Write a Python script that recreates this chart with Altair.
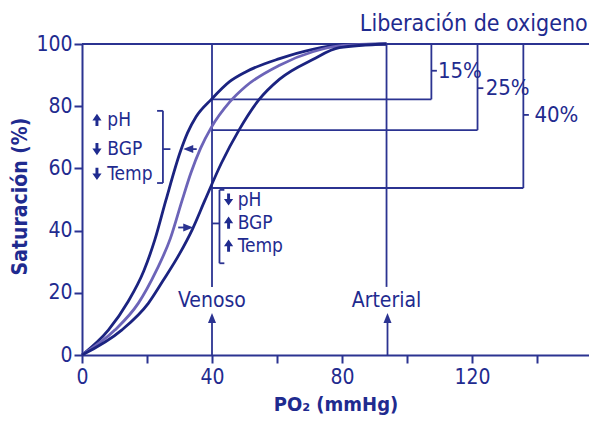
import altair as alt
import pandas as pd

FONT = "Noto Sans Condensed, DejaVu Sans Condensed, Liberation Sans, sans-serif"
DARK = "#1b2380"
MID = "#6c64b8"
LINE = "#2b3391"
TEXT = "#1f2b8f"

X_MAX = 156.0
XT = "PO₂ (mmHg)"
YT = "Saturación (%)"

# ---- curves (PO2 mmHg, saturation %) ----
left_po2 = [0, 8.1, 14.2, 19.0, 22.4, 25.8, 30.3, 32.5, 35.1, 39.8, 45.4, 50.5, 60.8, 71.0, 79.2, 93.7]
left_sat = [0, 8.0, 17.2, 27.0, 37.0, 49.7, 65.5, 71.5, 76.6, 82.2, 87.9, 91.1, 95.3, 98.3, 99.6, 100]
mid_po2 = [0, 10.1, 17.3, 22.9, 27.2, 30.8, 33.5, 36.5, 39.8, 45.4, 50.5, 60.8, 71.0, 79.2, 93.7]
mid_sat = [0, 8.0, 16.6, 27.2, 37.5, 49.7, 58.5, 66.5, 73.2, 81.3, 86.5, 93.2, 97.5, 99.4, 100]
right_po2 = [0, 12.2, 20.4, 25.0, 30.0, 34.0, 37.8, 42.8, 48.3, 54.4, 60.8, 71.0, 79.2, 93.7]
right_sat = [0, 8.0, 16.6, 24.0, 32.5, 40.5, 49.7, 61.5, 72.3, 82.0, 88.7, 95.0, 98.8, 100]

# ---- annotation segments (x, y, x2, y2) ----
seg_x = [0, 40, 93.7, 40, 107.5, 107.5, 40, 121.7, 121.7, 40, 135.8, 135.8,
         24.9, 23.1, 23.1, 24.9, 42.3, 42.3, 42.3, 40, 40, 94, 35.3, 29.6]
seg_y = [100, 100, 100, 82.2, 100, 91.4, 72.3, 100, 85.8, 53.7, 100, 77.2,
         78.5, 78.5, 55.3, 66.2, 53.1, 53.1, 29.5, 42.3, 0, 0, 66.2, 41.0]
seg_x2 = [X_MAX, 40, 93.7, 107.5, 107.5, 109.2, 121.7, 121.7, 123.5, 135.8, 135.8, 137.5,
          24.9, 24.9, 24.9, 27.2, 42.3, 43.8, 43.8, 42.3, 40, 94, 33.0, 32.0]
seg_y2 = [100, 21.9, 21.9, 82.2, 82.2, 91.4, 72.3, 72.3, 85.8, 53.7, 53.7, 77.2,
          55.3, 78.5, 55.3, 66.2, 29.5, 53.1, 29.5, 42.3, 11.9, 11.9, 66.2, 41.0]

# ---- arrow heads ----
UP = "M0,-1L0.8,1L-0.8,1Z"
LEFT = "M-1,0L1,-0.8L1,0.8Z"
RIGHT = "M1,0L-1,-0.8L-1,0.8Z"
head_x = [40, 94, 32.7, 32.7]
head_y = [11.9, 11.9, 66.2, 41.0]
head_shape = [UP, UP, LEFT, RIGHT]

# ---- factor labels ----
AUP = "M0,-1L0.75,0.1L0.24,0.1L0.24,1L-0.24,1L-0.24,0.1L-0.75,0.1Z"
ADOWN = "M0,1L0.75,-0.1L0.24,-0.1L0.24,-1L-0.24,-1L-0.24,-0.1L-0.75,-0.1Z"
factor_text = ["pH", "BGP", "Temp", "pH", "BGP", "Temp"]
factor_x = [7.8, 7.8, 7.8, 47.9, 47.9, 47.9]
factor_y = [75.6, 66.2, 58.2, 50.0, 42.6, 35.2]
glyph_x = [4.6, 4.6, 4.6, 45.1, 45.1, 45.1]
glyph_shape = [AUP, ADOWN, ADOWN, ADOWN, AUP, AUP]

pct_text = ["15%", "25%", "40%"]
pct_x = [109.5, 124.2, 139.2]
pct_y = [91.4, 85.8, 77.2]

site_text = ["Venoso", "Arterial"]
site_x = [40, 93.7]
site_y = [17.5, 17.5]

title_text = ["Liberación de oxigeno"]
title_x = [155.6]
title_y = [104.2]

# ---- data frames ----
curves = pd.concat([
    pd.DataFrame({"po2": left_po2, "sat": left_sat, "curve": "izq"}),
    pd.DataFrame({"po2": mid_po2, "sat": mid_sat, "curve": "normal"}),
    pd.DataFrame({"po2": right_po2, "sat": right_sat, "curve": "der"}),
])
segs = pd.DataFrame({"po2": seg_x, "sat": seg_y, "po2b": seg_x2, "satb": seg_y2})
heads = pd.DataFrame({"po2": head_x, "sat": head_y, "shape": head_shape})
glyphs = pd.DataFrame({"po2": glyph_x, "sat": factor_y, "shape": glyph_shape})
factors = pd.DataFrame({"po2": factor_x, "sat": factor_y, "t": factor_text})
pcts = pd.DataFrame({"po2": pct_x, "sat": pct_y, "t": pct_text})
sites = pd.DataFrame({"po2": site_x, "sat": site_y, "t": site_text})
titles = pd.DataFrame({"po2": title_x, "sat": title_y, "t": title_text})

xs = alt.Scale(domain=[0, X_MAX], nice=False, zero=False)
ys = alt.Scale(domain=[0, 100], nice=False, zero=False)

x_axis = alt.Axis(values=[0, 20, 40, 60, 80, 100, 120, 140],
                  labelExpr="datum.value % 40 === 0 ? datum.label : ''",
                  labelFlush=False,
                  grid=False, tickSize=8, tickWidth=2, domainWidth=2,
                  tickColor=LINE, domainColor=LINE, labelColor=TEXT,
                  labelFont=FONT, labelFontSize=21, labelPadding=3,
                  titleFont=FONT, titleFontSize=20, titleFontWeight="bold",
                  titleColor=TEXT, titleY=49, titleBaseline="middle")
y_axis = alt.Axis(values=[0, 20, 40, 60, 80, 100], grid=False, tickSize=8,
                  tickWidth=2, domainWidth=2, tickColor=LINE, domainColor=LINE,
                  labelColor=TEXT, labelFont=FONT, labelFontSize=21, labelPadding=2,
                  labelFlush=False,
                  titleFont=FONT, titleFontSize=21, titleFontWeight="bold",
                  titleColor=TEXT, titleAngle=270, titleX=-62, titleY=152,
                  titleAlign="center", titleBaseline="middle")


def X(f="po2"):
    return alt.X(f"{f}:Q", scale=xs, axis=x_axis, title=XT)


def Y(f="sat"):
    return alt.Y(f"{f}:Q", scale=ys, axis=y_axis, title=YT)


rules = alt.Chart(segs).mark_rule(color=LINE, strokeWidth=1.8).encode(
    x=X(), y=Y(), x2=alt.X2("po2b:Q", title=XT), y2=alt.Y2("satb:Q", title=YT))

lines = alt.Chart(curves).mark_line(interpolate="monotone", strokeWidth=2.8).encode(
    x=X(), y=Y(),
    color=alt.Color("curve:N", scale=alt.Scale(domain=["normal", "izq", "der"],
                                               range=[MID, DARK, DARK]), legend=None),
    detail="curve:N")

head_pts = alt.Chart(heads).mark_point(filled=True, opacity=1, color=LINE, size=100,
                                       strokeWidth=0).encode(
    x=X(), y=Y(), shape=alt.Shape("shape:N", scale=None))

glyph_pts = alt.Chart(glyphs).mark_point(filled=True, opacity=1, color=TEXT, size=150,
                                         strokeWidth=0).encode(
    x=X(), y=Y(), shape=alt.Shape("shape:N", scale=None))


def txt(df, size, align, baseline="middle"):
    return alt.Chart(df).mark_text(font=FONT, fontSize=size, color=TEXT, align=align,
                                   baseline=baseline).encode(x=X(), y=Y(), text="t:N")


chart = alt.layer(
    rules, lines, head_pts, glyph_pts,
    txt(factors, 19, "left"),
    txt(pcts, 22, "left"),
    txt(sites, 21, "center"),
    txt(titles, 23, "right", "alphabetic"),
).properties(
    width=507, height=311,
    padding={"left": 74, "top": 36, "right": 0, "bottom": 61},
    autosize=alt.AutoSizeParams(type="none"),
).configure_view(stroke=None)

chart.save("out.html", embed_options={"renderer": "svg", "actions": False})
